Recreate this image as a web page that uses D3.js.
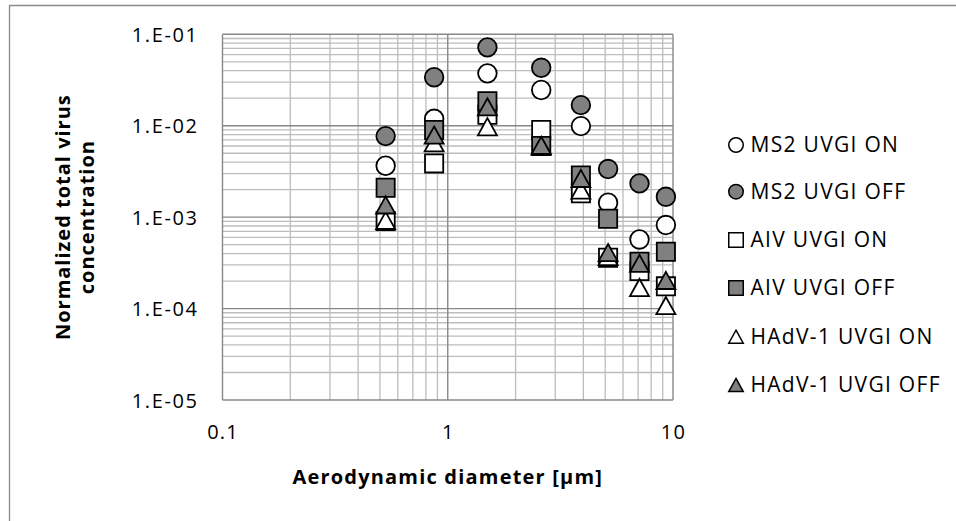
<!DOCTYPE html>
<html>
<head>
<meta charset="utf-8">
<script src="https://cdn.jsdelivr.net/npm/d3@7/dist/d3.min.js"></script>
<style>
  html, body { margin: 0; padding: 0; background: #fff; }
  svg { display: block; }
  text { font-family: "Open Sans", "Noto Sans", sans-serif; fill: #000; }
</style>
</head>
<body>
<svg id="chart" width="956" height="521"></svg>
<script>
// Aerodynamic size channels [µm]
const diameters = [0.53, 0.87, 1.5, 2.6, 3.9, 5.15, 7.1, 9.3];

// Normalized total virus concentration per size channel
const ms2On   = [3.65e-3, 1.19e-2, 3.74e-2, 2.46e-2, 9.9e-3, 1.44e-3, 5.7e-4, 8.2e-4];
const ms2Off  = [7.7e-3, 3.39e-2, 7.2e-2, 4.3e-2, 1.68e-2, 3.36e-3, 2.34e-3, 1.67e-3];
const aivOn   = [9.1e-4, 3.87e-3, 1.32e-2, 8.97e-3, 1.82e-3, 3.6e-4, 2.57e-4, 1.75e-4];
const aivOff  = [2.1e-3, 9.0e-3, 1.85e-2, 6.0e-3, 2.86e-3, 9.6e-4, 3.25e-4, 4.19e-4];
const hadvOn  = [9.2e-4, 6.5e-3, 9.75e-3, 6.0e-3, 1.98e-3, 3.7e-4, 1.7e-4, 1.08e-4];
const hadvOff = [1.36e-3, 7.9e-3, 1.61e-2, 6.1e-3, 2.65e-3, 4.1e-4, 3.12e-4, 2.03e-4];

const seriesNames = ["MS2 UVGI ON", "MS2 UVGI OFF", "AIV UVGI ON", "AIV UVGI OFF", "HAdV-1 UVGI ON", "HAdV-1 UVGI OFF"];
const seriesValues = [ms2On, ms2Off, aivOn, aivOff, hadvOn, hadvOff];
const seriesShapes = ["circle", "circle", "square", "square", "triangle", "triangle"];
const seriesFilled = [false, true, false, true, false, true];

const yTickValues = [1e-1, 1e-2, 1e-3, 1e-4, 1e-5];
const yTickLabels = ["1.E-01", "1.E-02", "1.E-03", "1.E-04", "1.E-05"];
const xTickValues = [0.1, 1, 10];
const xTickLabels = ["0.1", "1", "10"];

const xTitle = "Aerodynamic diameter [µm]";
const yTitleLines = ["Normalized total virus", "concentration"];

const svg = d3.select("#chart");
const plot = { left: 222.5, right: 673, top: 34.3, bottom: 400 };

const x = d3.scaleLog().domain([0.1, 10]).range([plot.left, plot.right]);
const y = d3.scaleLog().domain([1e-5, 1e-1]).range([plot.bottom, plot.top]);

// outer chart frame (left & top edges visible)
svg.append("path")
  .attr("d", "M9.5,521 V5.5 H956")
  .attr("fill", "none").attr("stroke", "#8a8a8a").attr("stroke-width", 1.3);

// gridlines: minor first, then major decades on top
function minorValues(lo, hi) {
  const out = [];
  for (let d = lo; d < hi; d *= 10) for (let k = 2; k <= 9; k++) out.push(d * k);
  return out;
}
const grid = svg.append("g");
grid.selectAll(".vminor").data(minorValues(0.1, 10)).join("line")
  .attr("x1", d => x(d)).attr("x2", d => x(d))
  .attr("y1", plot.top).attr("y2", plot.bottom)
  .attr("stroke", "#bdbdbd").attr("stroke-width", 1.3);
grid.selectAll(".hminor").data(minorValues(1e-5, 1e-1)).join("line")
  .attr("y1", d => y(d)).attr("y2", d => y(d))
  .attr("x1", plot.left).attr("x2", plot.right)
  .attr("stroke", "#bdbdbd").attr("stroke-width", 1.3);
grid.selectAll(".vmajor").data(xTickValues).join("line")
  .attr("x1", d => x(d)).attr("x2", d => x(d))
  .attr("y1", plot.top).attr("y2", plot.bottom)
  .attr("stroke", "#888").attr("stroke-width", 1.4);
grid.selectAll(".hmajor").data(yTickValues).join("line")
  .attr("y1", d => y(d)).attr("y2", d => y(d))
  .attr("x1", plot.left).attr("x2", plot.right)
  .attr("stroke", "#888").attr("stroke-width", 1.4);

// axes (labels only, lines come from the grid)
const yAxis = svg.append("g")
  .attr("transform", `translate(${plot.left - 24},0)`)
  .call(d3.axisLeft(y).tickValues(yTickValues).tickFormat((d, i) => yTickLabels[i]).tickSize(0).tickPadding(0));
yAxis.select(".domain").remove();
yAxis.selectAll("text")
  .style("font-family", "'Open Sans', sans-serif")
  .attr("font-size", 20).attr("letter-spacing", 1.6).attr("dy", "0.35em").attr("fill", "#000");

const xAxis = svg.append("g")
  .attr("transform", `translate(0,${plot.bottom + 25})`)
  .call(d3.axisBottom(x).tickValues(xTickValues).tickFormat((d, i) => xTickLabels[i]).tickSize(0).tickPadding(0));
xAxis.select(".domain").remove();
xAxis.selectAll("text")
  .style("font-family", "'Open Sans', sans-serif")
  .attr("font-size", 20).attr("letter-spacing", 1.2).attr("dy", "0.71em").attr("fill", "#000");

// axis titles
svg.append("text")
  .attr("x", x(1)).attr("y", 484)
  .attr("text-anchor", "middle")
  .attr("font-size", 20).attr("font-weight", "bold").attr("letter-spacing", 1.2)
  .text(xTitle);

const yTitle = svg.append("text")
  .attr("transform", `translate(70,${(plot.top + plot.bottom) / 2}) rotate(-90)`)
  .attr("text-anchor", "middle")
  .attr("font-size", 20).attr("font-weight", "bold").attr("letter-spacing", 1.0);
yTitleLines.forEach((t, i) => {
  yTitle.append("tspan").attr("x", 0).attr("dy", i === 0 ? 0 : 24).text(t);
});

// marker shapes, centred on (0,0)
function markerPath(shape, s) {
  const h = s / 2;
  if (shape === "square") return `M${-h},${-h}H${h}V${h}H${-h}Z`;
  if (shape === "triangle") {
    const th = s * 0.9 / 2;
    return `M0,${-th}L${h},${th}L${-h},${th}Z`;
  }
  return `M${h},0A${h},${h} 0 1,1 ${-h},0A${h},${h} 0 1,1 ${h},0Z`;
}

const marks = svg.append("g");
seriesValues.forEach((vals, si) => {
  marks.append("g").selectAll("path")
    .data(vals.map((v, i) => ({ d: diameters[i], v })))
    .join("path")
    .attr("transform", p => `translate(${x(p.d)},${y(p.v)})`)
    .attr("d", markerPath(seriesShapes[si], seriesShapes[si] === "circle" ? 18.6 : (seriesShapes[si] === "square" ? 18.2 : 19)))
    .attr("fill", seriesFilled[si] ? "#808080" : "#fff")
    .attr("stroke", "#000")
    .attr("stroke-width", 1.8);
});

// legend
const legend = svg.append("g");
const legendY = [145, 191.7, 240, 288, 336.7, 385];
seriesNames.forEach((name, i) => {
  const g = legend.append("g").attr("transform", `translate(736,${legendY[i]})`);
  g.append("path")
    .attr("d", markerPath(seriesShapes[i], 14.5))
    .attr("fill", seriesFilled[i] ? "#808080" : "#fff")
    .attr("stroke", "#000").attr("stroke-width", 1.5);
  g.append("text")
    .attr("x", 14.5).attr("dy", "0.35em")
    .attr("font-size", 21).attr("letter-spacing", 1.3)
    .text(name);
});
</script>
</body>
</html>
